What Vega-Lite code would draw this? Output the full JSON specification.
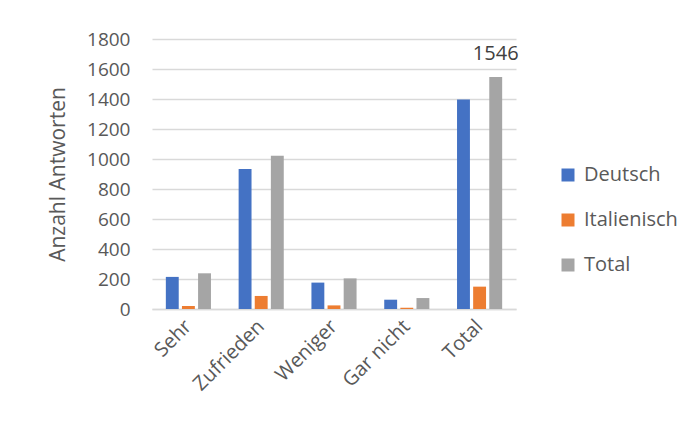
{
  "$schema": "https://vega.github.io/schema/vega-lite/v6.json",
  "width": 364,
  "height": 270,
  "autosize": "none",
  "padding": {"left": 152, "top": 39, "right": 177, "bottom": 112},
  "background": "white",
  "config": {
    "font": "Open Sans",
    "view": {"stroke": null},
    "axis": {"labelColor": "#595959", "titleColor": "#595959", "labelFont": "Open Sans", "titleFont": "Open Sans"},
    "legend": {"labelColor": "#595959", "labelFont": "Open Sans"}
  },
  "data": {
    "values": [
      {"Kategorie": "Sehr", "Sprache": "Deutsch", "Anzahl": 214},
      {"Kategorie": "Sehr", "Sprache": "Italienisch", "Anzahl": 20},
      {"Kategorie": "Sehr", "Sprache": "Total", "Anzahl": 238},
      {"Kategorie": "Zufrieden", "Sprache": "Deutsch", "Anzahl": 933},
      {"Kategorie": "Zufrieden", "Sprache": "Italienisch", "Anzahl": 87},
      {"Kategorie": "Zufrieden", "Sprache": "Total", "Anzahl": 1022},
      {"Kategorie": "Weniger", "Sprache": "Deutsch", "Anzahl": 176},
      {"Kategorie": "Weniger", "Sprache": "Italienisch", "Anzahl": 24},
      {"Kategorie": "Weniger", "Sprache": "Total", "Anzahl": 204},
      {"Kategorie": "Gar nicht", "Sprache": "Deutsch", "Anzahl": 62},
      {"Kategorie": "Gar nicht", "Sprache": "Italienisch", "Anzahl": 9},
      {"Kategorie": "Gar nicht", "Sprache": "Total", "Anzahl": 73},
      {"Kategorie": "Total", "Sprache": "Deutsch", "Anzahl": 1397},
      {"Kategorie": "Total", "Sprache": "Italienisch", "Anzahl": 149},
      {"Kategorie": "Total", "Sprache": "Total", "Anzahl": 1546, "Label": "1546"}
    ]
  },
  "encoding": {
    "x": {
      "field": "Kategorie", "type": "nominal",
      "sort": ["Sehr", "Zufrieden", "Weniger", "Gar nicht", "Total"],
      "scale": {"paddingInner": 0.38, "paddingOuter": 0.19},
      "axis": {"title": null, "labelAngle": -45, "labelAlign": "right", "labelBaseline": "middle", "labelFontSize": 20, "ticks": false, "domain": true, "domainColor": "#d9d9d9", "domainWidth": 1.5, "labelPadding": 14}
    },
    "xOffset": {"field": "Sprache", "type": "nominal", "sort": ["Deutsch", "Italienisch", "Total"], "scale": {"paddingInner": 0.2}},
    "y": {
      "field": "Anzahl", "type": "quantitative",
      "scale": {"domain": [0, 1800]},
      "axis": {"title": "Anzahl Antworten", "format": "d", "values": [0,200,400,600,800,1000,1200,1400,1600,1800], "labelFontSize": 19, "titleFontSize": 21, "titleFontWeight": "normal", "ticks": false, "domain": false, "labelPadding": 22, "titlePadding": 18, "gridColor": "#d9d9d9", "gridWidth": 1.5}
    }
  },
  "layer": [
    {
      "mark": {"type": "bar"},
      "encoding": {
        "color": {
          "field": "Sprache", "type": "nominal",
          "scale": {"domain": ["Deutsch", "Italienisch", "Total"], "range": ["#4472C4", "#ED7D31", "#A5A5A5"]},
          "legend": {"title": null, "orient": "none", "legendX": 406, "legendY": 126, "symbolType": "square", "symbolSize": 169, "symbolStrokeWidth": 0, "labelFontSize": 20, "rowPadding": 25, "labelOffset": 6}
        }
      }
    },
    {
      "transform": [{"filter": "isValid(datum.Label)"}],
      "mark": {"type": "text", "dy": -23, "fontSize": 20, "color": "#404040"},
      "encoding": {"text": {"field": "Label"}}
    }
  ]
}
